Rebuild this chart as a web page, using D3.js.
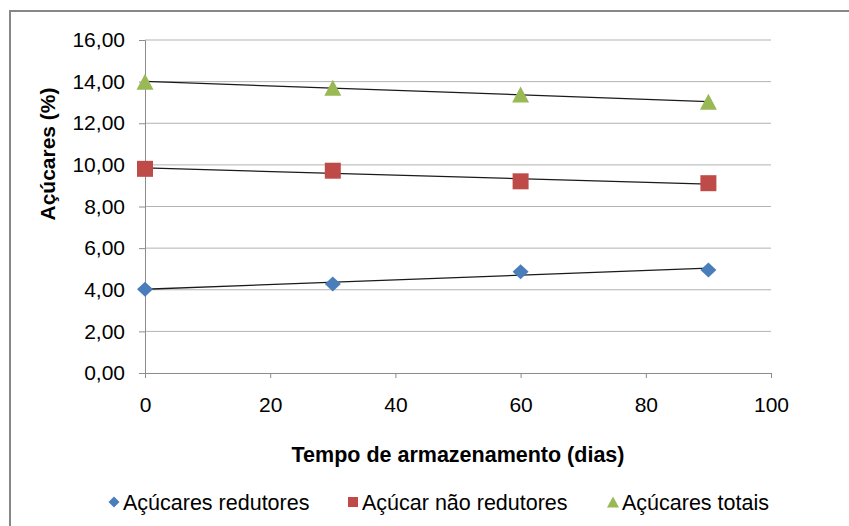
<!DOCTYPE html>
<html>
<head>
<meta charset="utf-8">
<script src="https://cdn.jsdelivr.net/npm/d3@7"></script>
<style>
  body { margin: 0; background: #fff; }
  text { font-family: "Liberation Sans", Arial, sans-serif; fill: #000; }
</style>
</head>
<body>
<div id="chart"></div>
<script>
var dias = [0, 30, 60, 90];
var redutores = [4.02, 4.28, 4.87, 4.95];
var naoRedutores = [9.81, 9.72, 9.21, 9.12];
var totais = [14.0, 13.7, 13.38, 13.03];
var yTicks = [0, 2, 4, 6, 8, 10, 12, 14, 16];
var xTicks = [0, 20, 40, 60, 80, 100];
var nomes = ["Açúcares redutores", "Açúcar não redutores", "Açúcares totais"];

// marker shapes drawn around the centre of their box
function diamond(w, h) {
  return "M0," + (-h / 2) + "L" + (w / 2) + ",0L0," + (h / 2) + "L" + (-w / 2) + ",0Z";
}
function square(w) {
  return "M" + (-w / 2) + "," + (-w / 2) + "h" + w + "v" + w + "h" + (-w) + "Z";
}
function triangle(w, h) {
  return "M0," + (-h / 2) + "L" + (w / 2) + "," + (h / 2) + "L" + (-w / 2) + "," + (h / 2) + "Z";
}

var series = [
  { name: nomes[0], values: redutores, color: "#4a7ebb", mark: diamond(16, 15), key: diamond(11, 11) },
  { name: nomes[1], values: naoRedutores, color: "#be4b48", mark: square(16), key: square(10) },
  { name: nomes[2], values: totais, color: "#98b954", mark: triangle(17, 16), key: triangle(12, 11) }
];

var width = 849, height = 526;
var svg = d3.select("#chart").append("svg")
  .attr("width", width)
  .attr("height", height);

// outer frame
svg.append("path")
  .attr("d", "M10,526 L10,11 L849,11")
  .attr("fill", "none")
  .attr("stroke", "#878787")
  .attr("stroke-width", 2);

var x = d3.scaleLinear().domain([0, 100]).range([145, 771]);
var y = d3.scaleLinear().domain([0, 16]).range([373, 40]);

// gridlines
svg.selectAll(".grid")
  .data(yTicks.slice(1))
  .enter().append("line")
  .attr("x1", x(0)).attr("x2", x(100))
  .attr("y1", function(d) { return y(d); })
  .attr("y2", function(d) { return y(d); })
  .attr("stroke", "#b3b3b3")
  .attr("stroke-width", 1);

var fmt = function(d) { return d3.format(".2f")(d).replace(".", ","); };

var yAxis = svg.append("g")
  .attr("transform", "translate(" + x(0) + ",0)")
  .call(d3.axisLeft(y).tickValues(yTicks).tickFormat(fmt).tickSize(6).tickPadding(14));
var xAxis = svg.append("g")
  .attr("transform", "translate(0," + y(0) + ")")
  .call(d3.axisBottom(x).tickValues(xTicks).tickSize(5).tickPadding(19));

[yAxis, xAxis].forEach(function(a) {
  a.select(".domain").attr("stroke", "#8c8c8c");
  a.selectAll(".tick line").attr("stroke", "#8c8c8c");
  a.selectAll("text").attr("font-size", 21).attr("fill", "#000")
    .style("font-family", "'Liberation Sans', Arial, sans-serif");
});

// trend lines (least squares over the points)
series.forEach(function(s) {
  var n = dias.length;
  var mx = d3.mean(dias), my = d3.mean(s.values);
  var sxy = d3.sum(dias, function(d, i) { return (d - mx) * (s.values[i] - my); });
  var sxx = d3.sum(dias, function(d) { return (d - mx) * (d - mx); });
  var b = sxy / sxx, a = my - b * mx;
  svg.append("line")
    .attr("x1", x(dias[0])).attr("y1", y(a + b * dias[0]))
    .attr("x2", x(dias[n - 1])).attr("y2", y(a + b * dias[n - 1]))
    .attr("stroke", "#1a1a1a")
    .attr("stroke-width", 1.3);
});

// markers
series.forEach(function(s) {
  svg.selectAll(null)
    .data(s.values)
    .enter().append("path")
    .attr("d", s.mark)
    .attr("transform", function(d, i) {
      return "translate(" + x(dias[i]) + "," + y(d) + ")";
    })
    .attr("fill", s.color);
});

// axis titles
svg.append("text")
  .attr("transform", "translate(55,154) rotate(-90)")
  .attr("text-anchor", "middle")
  .attr("font-size", 21)
  .attr("font-weight", "bold")
  .text("Açúcares (%)");

svg.append("text")
  .attr("x", 458).attr("y", 462)
  .attr("text-anchor", "middle")
  .attr("font-size", 21.5)
  .attr("font-weight", "bold")
  .text("Tempo de armazenamento (dias)");

// legend
var legendX = [114, 353, 613];
var legend = svg.selectAll(".legend")
  .data(series)
  .enter().append("g")
  .attr("transform", function(d, i) { return "translate(" + legendX[i] + ",502)"; });

legend.append("path")
  .attr("d", function(d) { return d.key; })
  .attr("fill", function(d) { return d.color; });

legend.append("text")
  .attr("x", 9)
  .attr("y", 7.5)
  .attr("font-size", 21.5)
  .text(function(d) { return d.name; });
</script>
</body>
</html>
